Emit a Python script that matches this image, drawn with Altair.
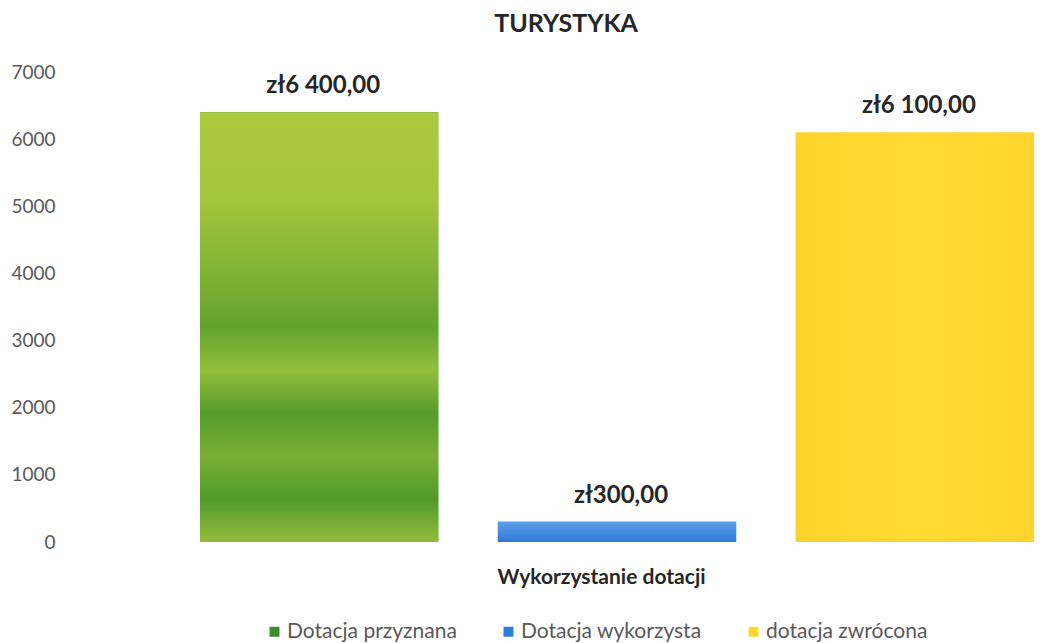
import altair as alt
import pandas as pd

categories = ["Dotacja przyznana", "Dotacja wykorzysta", "dotacja zwrócona"]
values = [6400, 300, 6100]
value_labels = ["zł6 400,00", "zł300,00", "zł6 100,00"]
legend_colors = ["#3e8e2e", "#2f7fd8", "#fdd835"]
y_ticks = [0, 1000, 2000, 3000, 4000, 5000, 6000, 7000]

df = pd.DataFrame({"kategoria": categories, "wartosc": values, "etykieta": value_labels})

FONT = "Lato"

x_enc = alt.X(
    "kategoria:N",
    sort=categories,
    scale=alt.Scale(paddingInner=0.2, paddingOuter=0),
    axis=alt.Axis(
        labels=False, ticks=False, domain=False, grid=False,
        title="Wykorzystanie dotacji",
        titleFont=FONT, titleFontSize=21, titleFontWeight="bold", titleColor="#262626",
        titleX=401, titleY=41, titleBaseline="alphabetic", titleAlign="center",
    ),
)
y_enc = alt.Y(
    "wartosc:Q",
    scale=alt.Scale(domain=[0, 7000], nice=False),
    axis=alt.Axis(
        values=y_ticks, format="d", title=None, grid=False, ticks=False, domain=False,
        labelFont=FONT, labelFontSize=19, labelColor="#595959",
        labelPadding=2, offset=143,
    ),
)

bars = alt.Chart(df).mark_bar().encode(
    x=x_enc,
    y=y_enc,
    color=alt.Color(
        "kategoria:N",
        sort=categories,
        scale=alt.Scale(domain=categories, range=legend_colors),
        legend=alt.Legend(
            title=None, orient="none", direction="horizontal",
            legendX=64, legendY=549, columnPadding=41,
            symbolType="square", symbolSize=100, symbolStrokeWidth=0,
            labelOffset=2, labelFont=FONT, labelFontSize=21, labelColor="#595959",
            labelLimit=400,
        ),
    ),
)

green_grad = alt.LinearGradient(
    gradient="linear", x1=0, x2=0, y1=0, y2=1,
    stops=[
        alt.GradientStop(color="#adc93e", offset=0),
        alt.GradientStop(color="#a3c53c", offset=0.2),
        alt.GradientStop(color="#86b636", offset=0.35),
        alt.GradientStop(color="#62a32e", offset=0.5),
        alt.GradientStop(color="#93bf3a", offset=0.6),
        alt.GradientStop(color="#559b2c", offset=0.7),
        alt.GradientStop(color="#78b033", offset=0.8),
        alt.GradientStop(color="#519a2b", offset=0.9),
        alt.GradientStop(color="#93bd3b", offset=1),
    ],
)
blue_grad = alt.LinearGradient(
    gradient="linear", x1=0, x2=0, y1=0, y2=1,
    stops=[
        alt.GradientStop(color="#5d9fe8", offset=0),
        alt.GradientStop(color="#2e78d6", offset=1),
    ],
)
yellow_grad = alt.LinearGradient(
    gradient="linear", x1=0, x2=1, y1=0, y2=0,
    stops=[
        alt.GradientStop(color="#fcd32a", offset=0),
        alt.GradientStop(color="#ffdb33", offset=0.5),
        alt.GradientStop(color="#fdd52c", offset=1),
    ],
)

def overlay(cat, grad):
    return alt.Chart(df).transform_filter(
        alt.datum.kategoria == cat
    ).mark_bar(color=grad).encode(x=alt.X("kategoria:N", sort=categories), y="wartosc:Q")

texts = alt.Chart(df).mark_text(
    dy=-19, dx=4, baseline="alphabetic", align="center",
    font=FONT, fontSize=24, fontWeight="bold", color="#262626",
).encode(
    x=alt.X("kategoria:N", sort=categories),
    y="wartosc:Q",
    text="etykieta:N",
)

chart = alt.layer(
    bars,
    overlay(categories[0], green_grad),
    overlay(categories[1], blue_grad),
    overlay(categories[2], yellow_grad),
    texts,
).properties(
    width=834,
    height=470,
    background="white",
    title=alt.TitleParams(
        "TURYSTYKA", font=FONT, fontSize=25, fontWeight="bold", color="#262626",
        anchor="middle", frame="group", dx=-51, offset=6, baseline="alphabetic",
    ),
    autosize=alt.AutoSizeParams(type="none"),
    padding={"left": 192, "top": 64, "right": 0, "bottom": 100},
).configure_view(strokeWidth=0, stroke=None)

chart.save("out.html", embed_options={"renderer": "svg", "actions": False})
